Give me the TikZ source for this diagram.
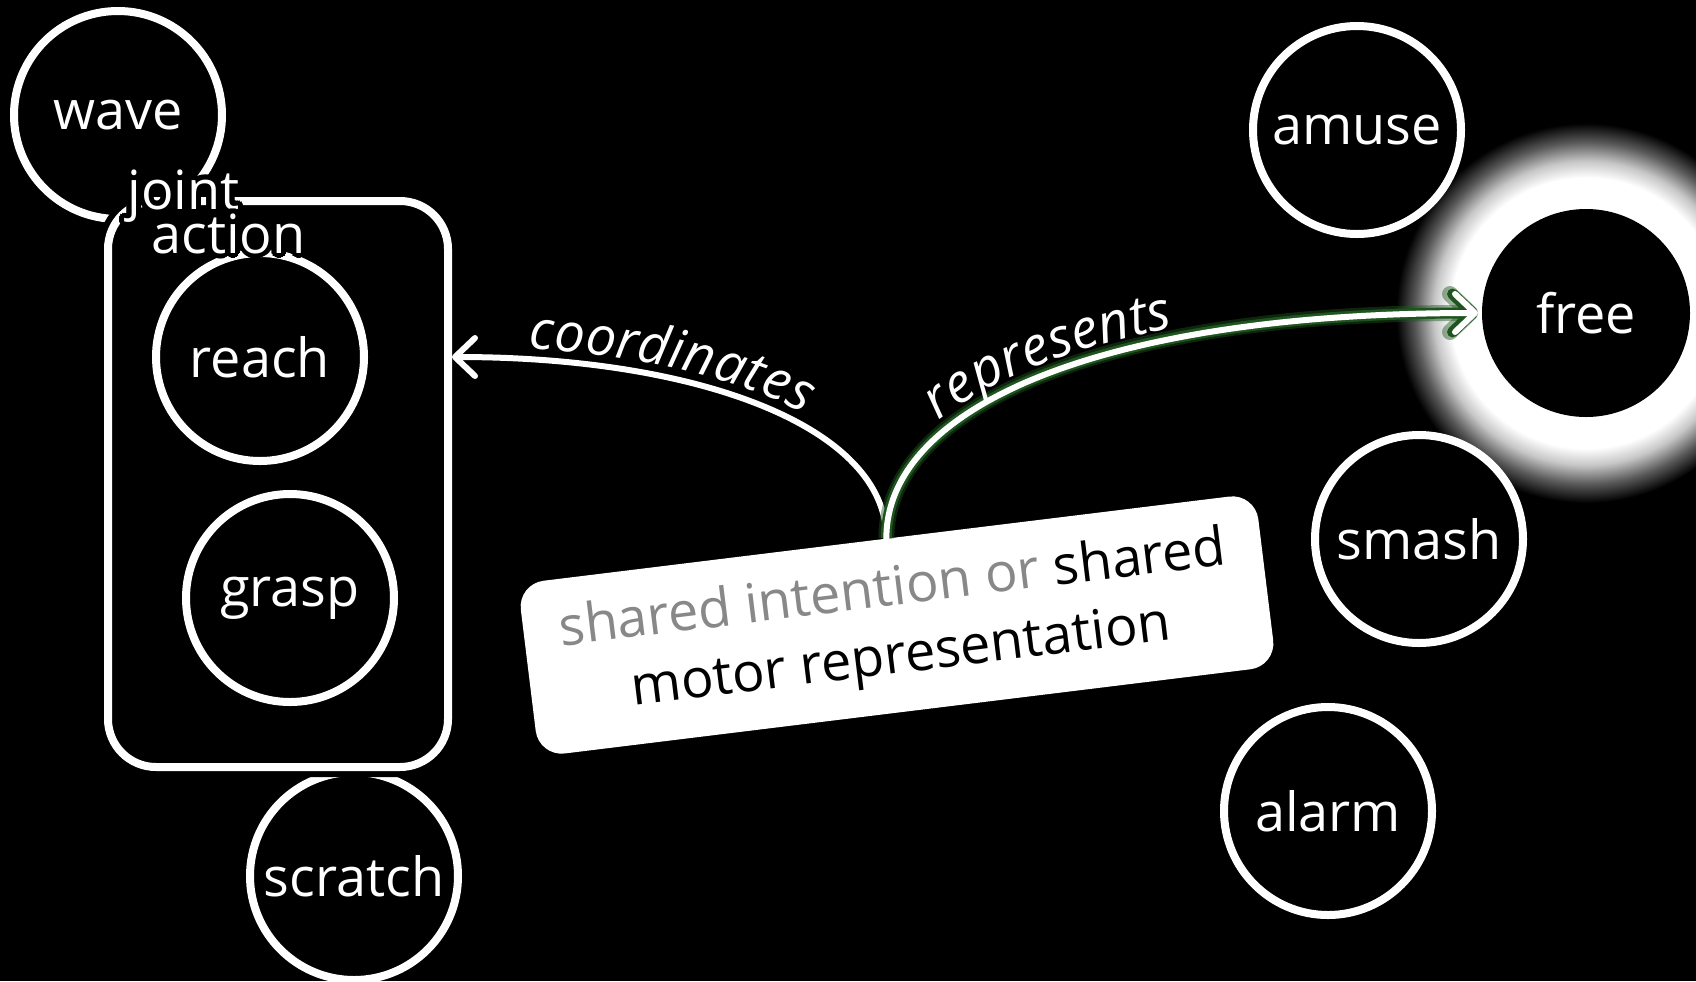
\documentclass[tikz,border=0pt]{standalone}
\usepackage{fontspec}
\setmainfont{Open Sans}
\usepackage[copies]{contour}
\contourlength{2.5pt}
\usetikzlibrary{arrows.meta,decorations.text}
\definecolor{glowgreen}{RGB}{30,85,30}
\definecolor{midgray}{RGB}{136,136,136}
\pgfdeclareradialshading{freeglow}{\pgfpoint{0bp}{0bp}}{color(0bp)=(white); color(17.8bp)=(white); color(20bp)=(white!78!black); color(22.5bp)=(white!35!black); color(25bp)=(black); color(50bp)=(black)}
\newcommand{\nodefont}{\fontsize{27}{32}\selectfont}
\newcommand{\lblfont}{\fontsize{27}{32}\selectfont\itshape}
\begin{document}
\begin{tikzpicture}[x=0.5pt,y=-0.5pt,
  bubble/.style={circle, draw=white, fill=black, line width=4pt, minimum size=104pt, inner sep=0pt, text=white, font=\nodefont},
  halo/.style={preaction={draw=black, line width=10pt}},
  jointbox/.style={rectangle, rounded corners=24pt, draw=white, fill=black, line width=4pt, minimum width=170pt, minimum height=283pt, inner sep=0pt, halo},
  toplabel/.style={text=white, font=\nodefont, inner sep=0pt},
  sharedbox/.style={rectangle, rounded corners=13pt, fill=white, draw=none, text=black, align=center, font=\fontsize{27}{34}\selectfont, minimum width=371.5pt, minimum height=87pt, inner sep=0pt},
  link/.style={draw=white, line width=3pt, line cap=round, line join=round, -{Straight Barb[length=10pt,width=19pt,line cap=round,line join=round]}},
  greenglow/.style={preaction={draw=glowgreen, draw opacity=0.45, line width=8pt}, preaction={draw=glowgreen, line width=5.5pt}},
  along/.style={decorate, decoration={text along path, text color=white, raise=5.5pt}}
]
\useasboundingbox (0,0) rectangle (1696,981);
\fill[black] (0,0) rectangle (1696,981);
% glow behind free
\shade[shading=freeglow] (1586,313) circle[radius=190];
% left group
\node[bubble] (wave) at (118,115) {wave};
\node[bubble] (scratch) at (354,876) {scratch};
\node[jointbox] (joint) at (278,484) {};
\node[bubble] (reach) at (260,357) {reach};
\node[bubble] (grasp) at (290,598) {grasp};
\node[toplabel, anchor=base west] (jointA) at (127,209) {\contour{black}{joint}};
\node[toplabel, anchor=base west] (jointB) at (151,253) {\contour{black}{action}};
% right group
\node[bubble] (amuse) at (1357,130) {amuse};
\node[bubble, draw=none] (free) at (1586,313) {free};
\node[bubble] (smash) at (1419,539) {smash};
\node[bubble] (alarm) at (1328,811) {alarm};
% central box
\node[sharedbox, rotate=7] (shared) at (897,625) {\textcolor{midgray}{shared intention or} shared\\motor representation};
\coordinate (jtarget) at (joint.east |- reach.center);
% connectors
\draw[link] (shared.north) .. controls +(0,-110) and +(250,0) .. (jtarget);
\draw[link, greenglow] (shared.north) .. controls +(0,-130) and +(-380,0) .. (free.west);
% labels along connectors
\path[along, decoration={text={|\lblfont|coordinates}, text align={left indent=38pt}}] (jtarget) .. controls +(250,0) and +(0,-110) .. (shared.north);
\path[along, decoration={text={|\lblfont|represents}, text align={left indent=64pt}}] (shared.north) .. controls +(0,-130) and +(-380,0) .. (free.west);
\end{tikzpicture}
\end{document}
